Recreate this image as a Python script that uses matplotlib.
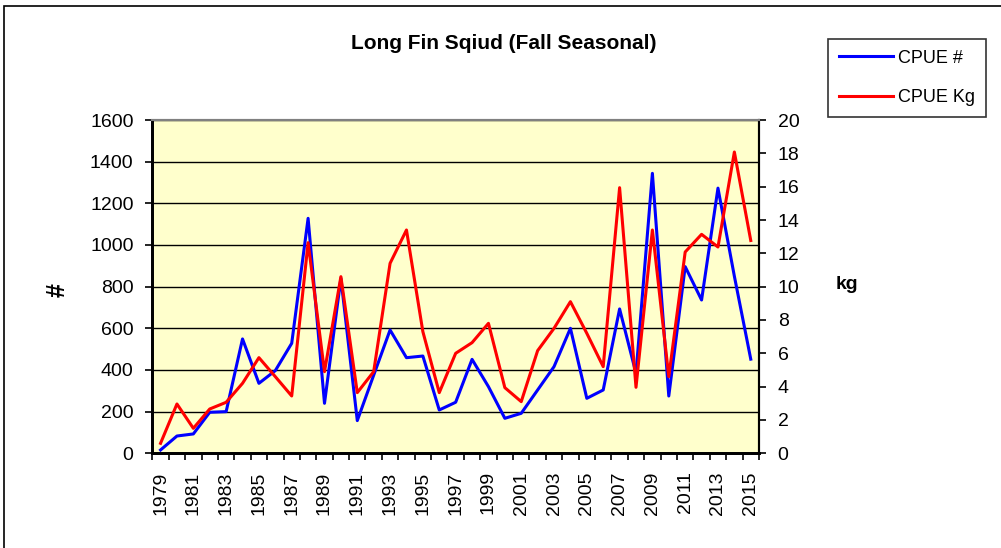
import matplotlib.pyplot as plt
from matplotlib.patches import Rectangle
import numpy as np

plt.rcParams['font.family'] = ['Liberation Sans', 'DejaVu Sans']

years = list(range(1979, 2016))
cpue_n = [16, 83, 93, 197, 200, 549, 336, 397, 528, 1128,
          240, 840, 157, 375, 592, 459, 467, 208, 245, 451,
          320, 168, 192, 304, 416, 600, 264, 304, 693, 384,
          1344, 275, 896, 736, 1273, 850, 452]
cpue_kg = [0.6, 2.96, 1.5, 2.66, 3.06, 4.2, 5.74, 4.6, 3.44, 12.64,
           4.9, 10.6, 3.64, 4.9, 11.4, 13.4, 7.3, 3.64, 6.0, 6.64,
           7.8, 3.94, 3.1, 6.16, 7.5, 9.1, 7.2, 5.2, 15.94, 3.96,
           13.4, 4.6, 12.08, 13.14, 12.38, 18.08, 12.77]
left_ticks = list(range(0, 1601, 200))
right_ticks = list(range(0, 21, 2))

fig = plt.figure(figsize=(10.01, 5.48), dpi=100)
ax = fig.add_axes([0.1522, 0.1728, 0.6060, 0.6082])
ax2 = ax.twinx()

x = np.arange(len(years))
ax.set_facecolor('#FFFFCC')
ax.plot(x, cpue_n, color='#0000FF', lw=2.2, label='CPUE #')
ax2.plot(x, cpue_kg, color='#FF0000', lw=2.2, label='CPUE Kg')

ax.set_xlim(-0.5, len(years) - 0.5)
ax.set_ylim(0, 1600)
ax2.set_ylim(0, 20)
ax.set_yticks(left_ticks)
ax2.set_yticks(right_ticks)
ax.yaxis.grid(True, color='black', lw=1)
ax.set_axisbelow(True)

# category boundaries get the tick marks, labels sit on every other year
ax.set_xticks(np.arange(-0.5, len(years), 1))
ax.set_xticklabels([])
ax.set_xticks(x[::2], minor=True)
ax.set_xticklabels([str(y) for y in years[::2]], minor=True, rotation=90,
                   fontsize=14)
ax.tick_params(axis='x', which='major', direction='out', length=5, width=1.2)
ax.tick_params(axis='x', which='minor', length=0, pad=13)
ax.tick_params(axis='y', direction='out', length=5, width=1.2, labelsize=14, pad=8.5)
ax2.tick_params(axis='y', direction='out', length=5, width=1.2, labelsize=14, pad=8.5)

for a in (ax, ax2):
    a.spines['top'].set_color('#808080')
    a.spines['top'].set_linewidth(1.5)
    a.spines['left'].set_linewidth(2)
    a.spines['bottom'].set_linewidth(2)
    a.spines['right'].set_linewidth(1.5)

fig.text(0.058, 0.471, '#', fontsize=18, fontweight='bold', rotation=90,
         ha='center', va='center')
fig.text(0.846, 0.481, 'kg', fontsize=14, fontweight='bold',
         ha='center', va='center')
fig.text(0.503, 0.920, 'Long Fin Sqiud (Fall Seasonal)', fontsize=15,
         fontweight='bold', ha='center', va='center')

h1, l1 = ax.get_legend_handles_labels()
h2, l2 = ax2.get_legend_handles_labels()
leg = fig.legend(h1 + h2, l1 + l2, loc='upper left',
                 bbox_to_anchor=(0.827, 0.929), borderaxespad=0, fontsize=13,
                 frameon=True, fancybox=False, edgecolor='black',
                 handlelength=3.0, handletextpad=0.3, labelspacing=1.25,
                 borderpad=0.6)
leg.get_frame().set_linewidth(1.2)

fig.patches.append(Rectangle((0.004, -0.1), 1.2, 1.089, transform=fig.transFigure,
                             fill=False, edgecolor='black', lw=1.2))

fig.savefig('out.png', dpi=100)
